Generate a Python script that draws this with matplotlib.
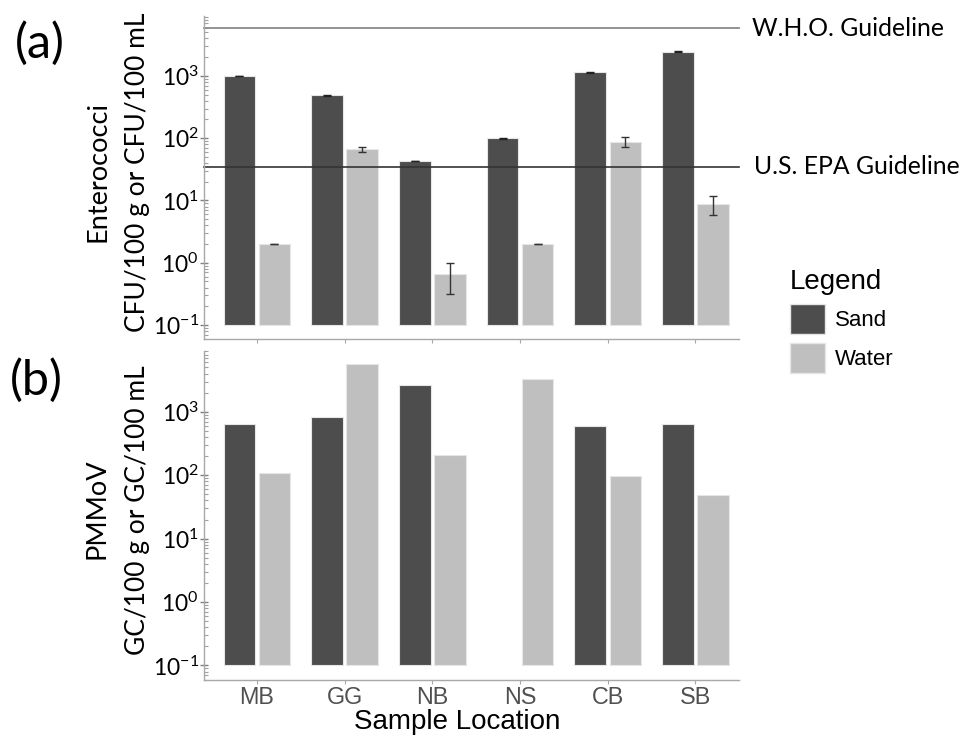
import numpy as np
import matplotlib
matplotlib.use('Agg')
import matplotlib.pyplot as plt
from matplotlib.patches import Patch
from matplotlib.ticker import FixedLocator, FixedFormatter, LogLocator, NullFormatter

plt.rcParams['font.family'] = ['Liberation Sans', 'DejaVu Sans']
plt.rcParams['mathtext.fontset'] = 'custom'
plt.rcParams['mathtext.rm'] = 'Lato'
plt.rcParams['mathtext.it'] = 'Lato:italic'
plt.rcParams['mathtext.bf'] = 'Lato:bold'

# data
locations = ['MB', 'GG', 'NB', 'NS', 'CB', 'SB']
entero_sand = [1000, 490, 43, 100, 1150, 2460]
entero_sand_err = [10, 5, 0.5, 1, 15, 25]
entero_water = [2.0, 66, 0.66, 2.0, 87, 8.9]
entero_water_err = [0.03, 5, 0.34, 0.03, 16, 3]
pmmov_sand = [650, 815, 2640, np.nan, 594, 632]
pmmov_water = [110, 5700, 205, 3320, 96, 48]
who_guideline = 5900
epa_guideline = 35

sand_col = '#4d4d4d'
water_col = '#bfbfbf'
base = 0.1
x = np.arange(len(locations))
off = 0.2
w = 0.36

fig = plt.figure(figsize=(9.69, 7.46), dpi=100)
ax1 = fig.add_axes([0.2108, 0.5452, 0.5522, 0.4334])
ax2 = fig.add_axes([0.2108, 0.0885, 0.5522, 0.4414])

ytick_vals = [0.1, 1, 10, 100, 1000]
ytick_labs = [r'$\mathrm{10^{-1}}$', r'$\mathrm{10^{0}}$', r'$\mathrm{10^{1}}$',
              r'$\mathrm{10^{2}}$', r'$\mathrm{10^{3}}$']


def style(ax):
    ax.set_yscale('log')
    ax.set_xlim(-0.6, 5.5)
    ax.set_ylim(0.059, 9200)
    for s in ['top', 'right']:
        ax.spines[s].set_visible(False)
    for s in ['left', 'bottom']:
        ax.spines[s].set_color('#a8a8a8')
        ax.spines[s].set_linewidth(1.0)
    ax.yaxis.set_major_locator(FixedLocator(ytick_vals))
    ax.yaxis.set_major_formatter(FixedFormatter(ytick_labs))
    ax.yaxis.set_minor_locator(LogLocator(base=10, subs=np.arange(2, 10), numticks=20))
    ax.yaxis.set_minor_formatter(NullFormatter())
    ax.tick_params(axis='y', which='major', direction='inout', length=6, width=1,
                   color='#808080', labelsize=16.5, pad=1)
    ax.tick_params(axis='y', which='minor', direction='in', length=3, width=0.8,
                   color='#a0a0a0')
    ax.set_xticks(x)
    ax.tick_params(axis='x', direction='out', length=3, color='#a8a8a8',
                   labelsize=16.8, labelcolor='#505050', pad=1)


style(ax1)
style(ax2)

# (a) Enterococci
sv = np.array(entero_sand)
wv = np.array(entero_water)
ax1.bar(x - off, sv - base, w, bottom=base, color=sand_col, edgecolor='#e6e6e6', linewidth=0.8)
ax1.bar(x + off, wv - base, w, bottom=base, color=water_col, edgecolor='#e6e6e6', linewidth=0.8)
ax1.errorbar(x - off, sv, yerr=entero_sand_err, fmt='none', ecolor='#222222',
             elinewidth=1, capsize=3.2)
ax1.errorbar(x + off, wv, yerr=entero_water_err, fmt='none', ecolor='#333333',
             elinewidth=1, capsize=3.2)
ax1.axhline(who_guideline, color='#8a8a8a', lw=1.3, clip_on=False)
ax1.axhline(epa_guideline, color='#333333', lw=1.2, clip_on=False)
ax1.set_xticklabels([])

# (b) PMMoV
ps = np.array(pmmov_sand)
pw = np.array(pmmov_water)
m = ~np.isnan(ps)
ax2.bar(x[m] - off, ps[m] - base, w, bottom=base, color=sand_col, edgecolor='#e6e6e6', linewidth=0.8)
ax2.bar(x + off, pw - base, w, bottom=base, color=water_col, edgecolor='#e6e6e6', linewidth=0.8)
ax2.set_xticklabels(locations)
fig.text(457 / 969, 1 - 722 / 746, 'Sample Location', fontsize=20, ha='center', va='center')

for lab in ax1.get_yticklabels() + ax2.get_yticklabels():
    lab.set_fontfamily('Lato')

# guideline labels
fig.text(752 / 969, 1 - 28 / 746, 'W.H.O. Guideline', family='Lato', fontsize=17.8,
         va='center', ha='left')
fig.text(754 / 969, 1 - 166 / 746, 'U.S. EPA Guideline', family='Lato', fontsize=17.8,
         va='center', ha='left')

# y labels
fig.text(98 / 969, 1 - 172 / 746, 'Enterococci', family='Lato', fontsize=19.5,
         rotation=90, ha='center', va='center')
fig.text(137 / 969, 1 - 172 / 746, 'CFU/100 g or CFU/100 mL', family='Lato', fontsize=19,
         rotation=90, ha='center', va='center')
fig.text(97 / 969, 1 - 509 / 746, 'PMMoV', family='Lato', fontsize=19.5,
         rotation=90, ha='center', va='center')
fig.text(137 / 969, 1 - 510 / 746, 'GC/100 g or GC/100 mL', family='Lato', fontsize=19,
         rotation=90, ha='center', va='center')

# panel labels
fig.text(40 / 969, 1 - 43 / 746, '(a)', family='Lato', fontsize=35, ha='center', va='center')
fig.text(36 / 969, 1 - 380 / 746, '(b)', family='Lato', fontsize=35, ha='center', va='center')

handles = [Patch(facecolor=sand_col, edgecolor='#e6e6e6', label='Sand'),
           Patch(facecolor=water_col, edgecolor='#e6e6e6', label='Water')]
leg = fig.legend(handles=handles, title='Legend', loc='upper left',
                 bbox_to_anchor=(790 / 969, 1 - 269 / 746), frameon=False,
                 fontsize=16, title_fontsize=20, handlelength=1.58, handleheight=1.67,
                 labelspacing=0.42, handletextpad=0.44, borderpad=0, borderaxespad=0,
                 alignment='left')

fig.savefig('out.png', dpi=100)
